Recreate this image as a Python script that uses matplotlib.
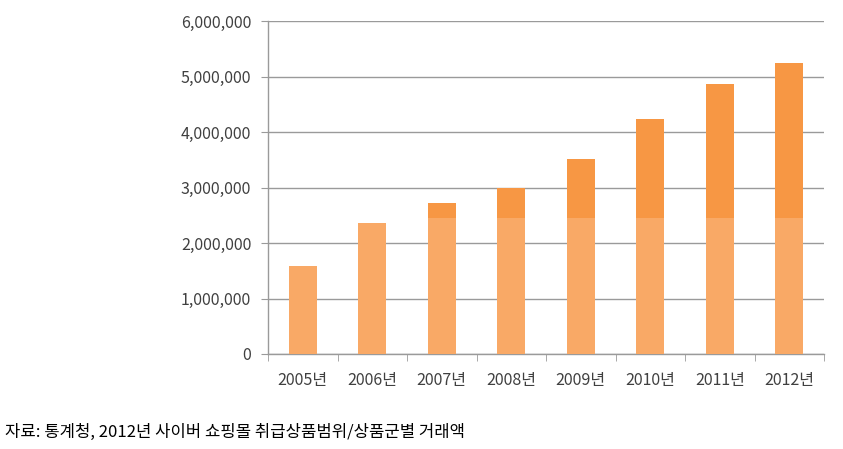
import matplotlib
matplotlib.use("Agg")
import matplotlib.pyplot as plt
from matplotlib.ticker import FuncFormatter, FixedLocator
import numpy as np

plt.rcParams['font.family'] = ['Noto Sans CJK KR', 'DejaVu Sans']

years = ['2005년', '2006년', '2007년', '2008년', '2009년', '2010년', '2011년', '2012년']
amounts = [1590000, 2360000, 2720000, 2990000, 3520000, 4230000, 4860000, 5240000]
caption = '자료: 통계청, 2012년 사이버 쇼핑몰 취급상품범위/상품군별 거래액'

# Excel gradient: lower part lighter, upper part darker
split_level = 2450000
dark = '#F79744'
light = '#F9A966'
grid_col = '#9A9A9A'
txt_col = '#404040'

fig = plt.figure(figsize=(8.43, 4.49), dpi=100)
ax = fig.add_axes([268 / 843, 1 - 354 / 449, (824 - 268) / 843, (354 - 21) / 449])

x = np.arange(len(years))
ax.bar(x, amounts, width=0.4, color=dark, zorder=2)
ax.bar(x, np.minimum(amounts, split_level), width=0.4, color=light, zorder=3)

ax.set_xlim(-0.5, len(years) - 0.5)
ax.set_ylim(0, 6000000)
ax.set_yticks(np.arange(0, 6000001, 1000000))
ax.yaxis.set_major_formatter(FuncFormatter(lambda v, p: '{:,.0f}'.format(v)))
ax.yaxis.grid(True, color=grid_col, linewidth=1)
ax.set_axisbelow(True)

ax.set_xticks(x)
ax.set_xticklabels(years)
ax.xaxis.set_minor_locator(FixedLocator(np.arange(-0.5, len(years), 1.0)))
ax.tick_params(axis='x', which='major', length=0, pad=13, labelsize=11.5, labelcolor=txt_col)
ax.tick_params(axis='x', which='minor', length=5, color=grid_col, direction='out')
ax.tick_params(axis='y', length=5, color=grid_col, direction='out', pad=7,
               labelsize=11.5, labelcolor=txt_col)

for s in ['top', 'right']:
    ax.spines[s].set_visible(False)
for s in ['left', 'bottom']:
    ax.spines[s].set_color(grid_col)
    ax.spines[s].set_linewidth(1)

fig.text(5 / 843, 1 - 432 / 449, caption, fontsize=12, color='black', va='center', ha='left')

fig.savefig('out.png', dpi=100)
